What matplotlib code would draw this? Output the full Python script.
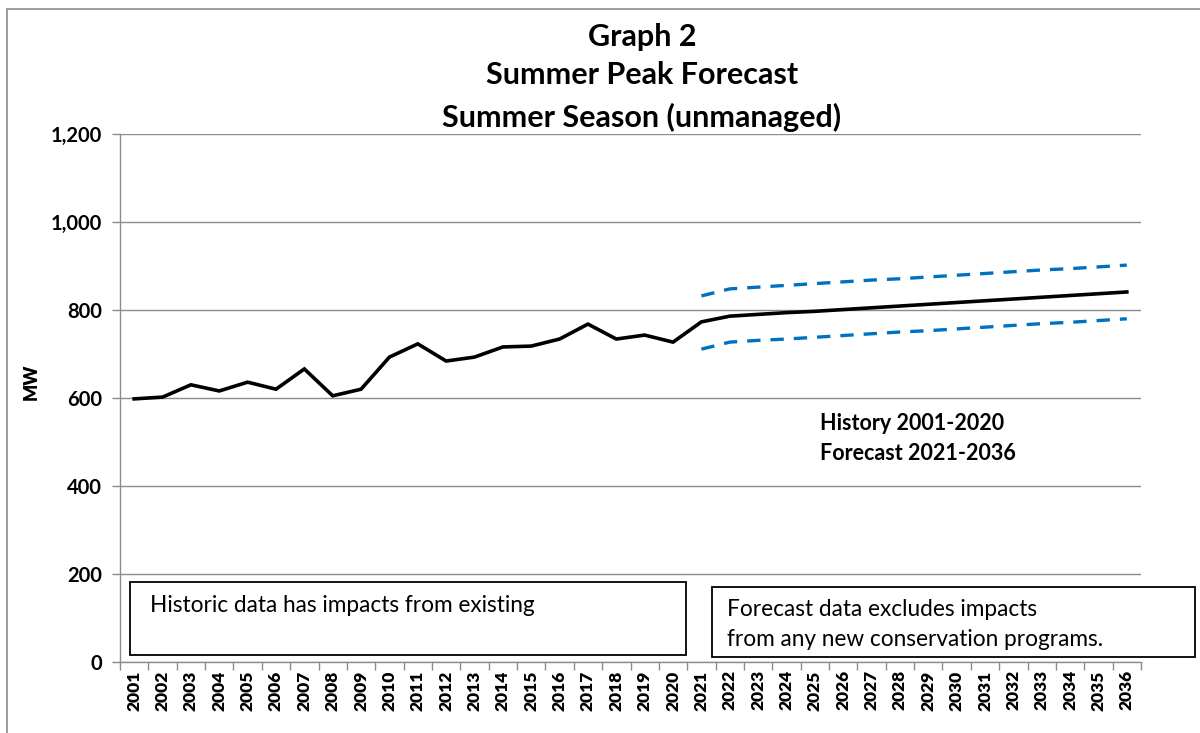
import matplotlib
matplotlib.use("Agg")
import matplotlib.pyplot as plt
from matplotlib.patches import Rectangle
from matplotlib.ticker import FuncFormatter, FixedLocator

plt.rcParams['font.family'] = ['Lato', 'DejaVu Sans']

years = [str(y) for y in range(2001, 2037)]
history = [598, 602, 630, 616, 636, 620, 666, 605, 620, 693,
           723, 684, 693, 716, 718, 734, 768, 734, 743, 727]
forecast = [773, 786, 790, 794, 797, 801, 805, 809, 813, 817,
            821, 825, 829, 833, 837, 841]
upper = [832, 848, 852, 856, 860, 864, 868, 871, 875, 879,
         883, 887, 891, 894, 898, 902]
lower = [711, 727, 731, 734, 738, 742, 746, 750, 753, 757,
         761, 765, 769, 772, 776, 780]

fig = plt.figure(figsize=(12, 7.33), dpi=100)
W, H = 1200, 733
ax = fig.add_axes([120 / W, 1 - 662 / H, (1141 - 120) / W, (662 - 134) / H])

x_all = list(range(len(years)))
main = history + forecast
ax.plot(x_all, main, color='black', lw=2.6, solid_joinstyle='miter', zorder=3)
xf = x_all[len(history):]
ax.plot(xf, upper, color='#0070C0', lw=2.4, dashes=(4, 3), zorder=3)
ax.plot(xf, lower, color='#0070C0', lw=2.4, dashes=(4, 3), zorder=3)

ax.set_xlim(-0.5, len(years) - 0.5)
ax.set_ylim(0, 1200)
ax.set_yticks(range(0, 1201, 200))
ax.yaxis.set_major_formatter(FuncFormatter(lambda v, p: f"{int(v):,}"))
ax.grid(axis='y', color='#8c8c8c', lw=1.0)
ax.set_axisbelow(True)

ax.set_xticks(x_all)
ax.set_xticklabels(years, rotation=90, fontweight='heavy', fontsize=12.5)
ax.xaxis.set_minor_locator(FixedLocator([i - 0.5 for i in range(len(years) + 1)]))
ax.tick_params(axis='x', which='major', length=0, pad=6)
ax.tick_params(axis='x', which='minor', length=6, color='#8c8c8c', width=1)
ax.tick_params(axis='y', length=6, color='#8c8c8c', width=1, labelsize=14.5, pad=7)
for lbl in ax.get_yticklabels():
    lbl.set_fontweight('bold')

for s in ['top', 'right']:
    ax.spines[s].set_visible(False)
for s in ['left', 'bottom']:
    ax.spines[s].set_color('#8c8c8c')
    ax.spines[s].set_linewidth(1.0)

ax.set_ylabel('MW', fontweight='heavy', fontsize=13, va='center')
ax.yaxis.set_label_coords((31 - 120) / (1141 - 120), (662 - 382) / (662 - 134))

for txt, yy in [('Graph 2', 37), ('Summer Peak Forecast', 75), ('Summer Season (unmanaged)', 117)]:
    fig.text(642 / W, 1 - yy / H, txt, ha='center', va='center', fontsize=22, fontweight='bold')

fig.text(820 / W, 1 - 424 / H, 'History 2001-2020', ha='left', va='center', fontsize=15.5, fontweight='bold')
fig.text(820 / W, 1 - 454 / H, 'Forecast 2021-2036', ha='left', va='center', fontsize=15.5, fontweight='bold')

# outer border
fig.add_artist(Rectangle((7 / W, -0.01), 1.02, 1 - 9 / H + 0.01, transform=fig.transFigure,
                         fill=False, edgecolor='#8c8c8c', lw=1.2))

# text boxes
fig.add_artist(Rectangle((130 / W, 1 - 655 / H), (686 - 130) / W, (655 - 582) / H,
                         transform=fig.transFigure, facecolor='white', edgecolor='black', lw=1.3, zorder=5))
fig.text(150 / W, 1 - 605 / H, 'Historic data has impacts from existing', ha='left', va='center',
         fontsize=16.3, zorder=6)
fig.add_artist(Rectangle((712 / W, 1 - 657 / H), (1195 - 712) / W, (657 - 587) / H,
                         transform=fig.transFigure, facecolor='white', edgecolor='black', lw=1.3, zorder=5))
fig.text(727 / W, 1 - 610 / H, 'Forecast data excludes impacts', ha='left', va='center',
         fontsize=16.3, zorder=6)
fig.text(727 / W, 1 - 639 / H, 'from any new conservation programs.', ha='left', va='center',
         fontsize=16.3, zorder=6)

fig.savefig('out.png', dpi=100)
